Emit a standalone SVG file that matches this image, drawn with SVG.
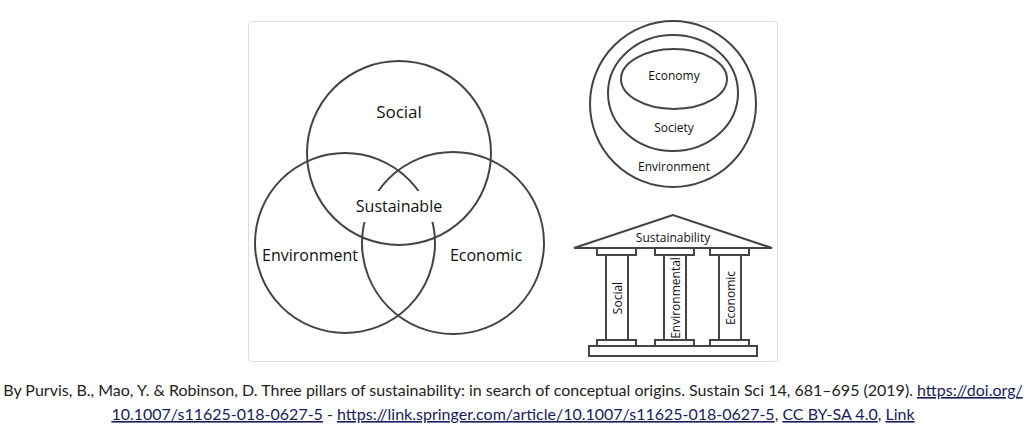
<svg xmlns="http://www.w3.org/2000/svg" width="1027" height="429" viewBox="0 0 1027 429">
<style>
.s{fill:none;stroke:#444;stroke-width:2}
.p{fill:#fff;stroke:#444;stroke-width:2}
text{font-family:"Open Sans","DejaVu Sans",sans-serif;fill:#111}
.c{font-family:Lato,"Noto Sans",sans-serif;font-size:16px;fill:#222}
.l{fill:#1a1a5e;text-decoration:underline}
</style>
<rect x="0" y="0" width="1027" height="429" fill="#fff"/>
<rect x="248.5" y="21.5" width="529" height="340" rx="3" fill="#fff" stroke="#ddd"/>
<g id="venn">
<circle class="s" cx="399" cy="153" r="92"/>
<circle class="s" cx="345" cy="243" r="90"/>
<circle class="s" cx="453" cy="243" r="91"/>
<rect x="349" y="191" width="98" height="31" fill="#fff"/>
<text x="399" y="118" font-size="17" text-anchor="middle">Social</text>
<text x="399" y="212" font-size="16" text-anchor="middle">Sustainable</text>
<text x="310" y="261" font-size="16" text-anchor="middle">Environment</text>
<text x="486" y="261" font-size="16" text-anchor="middle">Economic</text>
</g>
<g id="nested">
<circle class="s" cx="673" cy="104" r="83"/>
<ellipse class="s" cx="673" cy="93" rx="65" ry="58"/>
<ellipse class="s" cx="674" cy="79" rx="53" ry="30"/>
<text x="674" y="80" font-size="12" text-anchor="middle">Economy</text>
<text x="674" y="132" font-size="12" text-anchor="middle">Society</text>
<text x="674" y="171" font-size="12" text-anchor="middle">Environment</text>
</g>
<g id="pillars">
<polygon class="p" points="673,215 574,248 772,248"/>
<text x="673" y="242" font-size="12" text-anchor="middle">Sustainability</text>
<rect class="p" x="597" y="248" width="39" height="7"/>
<rect class="p" x="655" y="248" width="39" height="7"/>
<rect class="p" x="710" y="248" width="39" height="7"/>
<rect class="p" x="606" y="255" width="22" height="85"/>
<rect class="p" x="664" y="255" width="22" height="85"/>
<rect class="p" x="719" y="255" width="22" height="85"/>
<rect class="p" x="597" y="340" width="39" height="6"/>
<rect class="p" x="655" y="340" width="39" height="6"/>
<rect class="p" x="710" y="340" width="39" height="6"/>
<rect class="p" x="589" y="346" width="168" height="10"/>
<text transform="translate(622,298) rotate(-90)" font-size="12" text-anchor="middle">Social</text>
<text transform="translate(680,298) rotate(-90)" font-size="12" text-anchor="middle">Environmental</text>
<text transform="translate(735,298) rotate(-90)" font-size="12" text-anchor="middle">Economic</text>
</g>
<text class="c" x="513" y="396" text-anchor="middle">By Purvis, B., Mao, Y. &amp; Robinson, D. Three pillars of sustainability: in search of conceptual origins. Sustain Sci 14, 681–695 (2019). <tspan class="l">https://doi.org/</tspan></text>
<text class="c" x="513" y="420" text-anchor="middle"><tspan class="l">10.1007/s11625-018-0627-5</tspan> - <tspan class="l">https://link.springer.com/article/10.1007/s11625-018-0627-5</tspan>, <tspan class="l">CC BY-SA 4.0</tspan>, <tspan class="l">Link</tspan></text>
</svg>
